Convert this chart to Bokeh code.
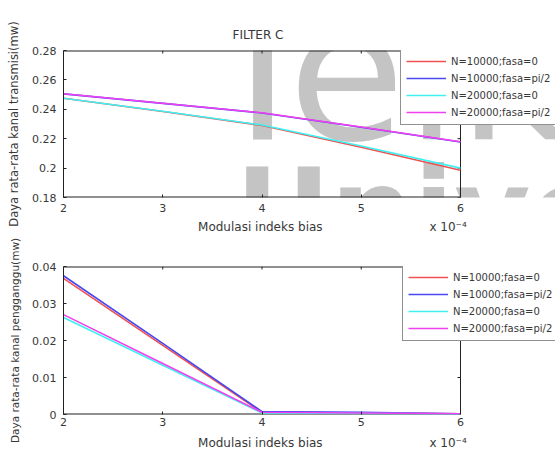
import math
from bokeh.plotting import figure
from bokeh.models import (Legend, LegendItem, Label, FixedTicker, CustomJSTickFormatter, Range1d)
from bokeh.layouts import column
from bokeh.embed import file_html
from bokeh.resources import INLINE

# ---------------- data ----------------
modulasi = [2, 3, 4, 5, 6]  # x 10^-4
series_labels = ["N=10000;fasa=0", "N=10000;fasa=pi/2", "N=20000;fasa=0", "N=20000;fasa=pi/2"]
series_colors = ["#f05050", "#4848f0", "#40f0f0", "#f040f0"]

trans_n10k_0 = [0.2475, 0.2385, 0.2290, 0.2142, 0.1985]
trans_n10k_pi2 = [0.2505, 0.2440, 0.2375, 0.2278, 0.2177]
trans_n20k_0 = [0.2475, 0.2387, 0.2293, 0.2150, 0.2000]
trans_n20k_pi2 = [0.2506, 0.2441, 0.2376, 0.2280, 0.2179]

ganggu_n10k_0 = [0.0368, 0.0187, 0.0006, 0.0004, 0.0002]
ganggu_n10k_pi2 = [0.0375, 0.0192, 0.0008, 0.0006, 0.0002]
ganggu_n20k_0 = [0.0262, 0.0133, 0.0004, 0.0003, 0.0001]
ganggu_n20k_pi2 = [0.0270, 0.0138, 0.0006, 0.0004, 0.0002]

x_ticks = [2, 3, 4, 5, 6]
trans_ticks = [0.18, 0.20, 0.22, 0.24, 0.26, 0.28]
ganggu_ticks = [0.0, 0.01, 0.02, 0.03, 0.04]

x_title = "Modulasi indeks bias"
x_exponent = "x 10\u207b\u2074"
title_text = "FILTER C"
watermark_top = "Telk"
watermark_bottom = "Unive"

TXT = "#383838"
LINE = "#222222"
FONT = "DejaVu Sans"
WM = "#c4c4c4"
NB = "\u00a0"

# frame: left 63 .. right edge of the window; the data box ends at x = 6
X_EXTRA = 95.0 / 99.25          # extra room right of x=6 that holds the legend
fmt_code = "return Number(tick.toFixed(4)).toString();"


def style_axis(ax, ticks, standoff):
    ax.ticker = FixedTicker(ticks=ticks)
    ax.formatter = CustomJSTickFormatter(code=fmt_code)
    ax.major_tick_in = 3
    ax.major_tick_out = 0
    ax.minor_tick_line_color = None
    ax.axis_line_color = LINE
    ax.major_tick_line_color = LINE
    ax.major_label_text_font = FONT
    ax.major_label_text_font_size = "11px"
    ax.major_label_text_color = TXT
    ax.major_label_standoff = standoff


def make_fig(height, yr, yt, ylabel, ylabel_size, btop, bbottom, xl_standoff, xlab_standoff):
    x_lo, x_hi = x_ticks[0], x_ticks[-1]
    p = figure(width=555, height=height, x_range=Range1d(x_lo, x_hi + X_EXTRA), y_range=Range1d(*yr),
               output_backend="svg", toolbar_location=None,
               min_border_left=63, min_border_right=0,
               min_border_top=btop, min_border_bottom=bbottom)
    p.grid.visible = False
    p.outline_line_color = None
    p.background_fill_color = "white"
    p.border_fill_color = "white"

    xa = p.xaxis[0]
    style_axis(xa, x_ticks, xl_standoff)
    xa.axis_line_color = None
    label = NB * 12 + x_title + NB * 28 + x_exponent
    xa.axis_label = label
    xa.axis_label_text_font = FONT
    xa.axis_label_text_font_size = "12px"
    xa.axis_label_text_font_style = "normal"
    xa.axis_label_text_color = TXT
    xa.axis_label_standoff = xlab_standoff

    ya = p.yaxis[0]
    style_axis(ya, yt, 7)
    ya.axis_label = ylabel
    ya.axis_label_text_font = FONT
    ya.axis_label_text_font_size = ylabel_size
    ya.axis_label_text_font_style = "normal"
    ya.axis_label_text_color = TXT
    ya.axis_label_standoff = 8

    # box of the axes: bottom, top and right edges, with inward ticks
    y_lo, y_hi = yr
    p.line([x_lo, x_hi], [y_lo, y_lo], line_color=LINE, line_width=2)
    p.line([x_lo, x_hi], [y_hi, y_hi], line_color=LINE, line_width=2)
    p.line([x_hi, x_hi], [y_lo, y_hi], line_color=LINE, line_width=1)
    p.ray(x=x_ticks[1:-1], y=[y_hi] * (len(x_ticks) - 2), length=3, length_units="screen",
          angle=-math.pi / 2, line_color=LINE, line_width=1)
    p.ray(x=[x_hi] * len(yt), y=yt, length=3, length_units="screen",
          angle=math.pi, line_color=LINE, line_width=1)
    return p


def add_lines(p, ys, loc):
    items = []
    for y, lab, col in zip(ys, series_labels, series_colors):
        r = p.line(modulasi, y, line_color=col, line_width=1.6)
        items.append(LegendItem(label=lab, renderers=[r]))
    leg = Legend(items=items, location=loc)
    leg.label_text_font = FONT
    leg.label_text_font_size = "10px"
    leg.label_text_color = TXT
    leg.glyph_width = 40
    leg.glyph_height = 14
    leg.label_height = 14
    leg.label_standoff = 5
    leg.spacing = 3
    leg.padding = 5
    leg.margin = 0
    leg.border_line_color = LINE
    leg.border_line_width = 1
    leg.background_fill_color = "white"
    leg.background_fill_alpha = 1.0
    p.add_layout(leg, "center")
    return leg


# ---------------- top plot ----------------
p1 = make_fig(238, (0.18, 0.28), trans_ticks, "Daya rata-rata kanal transmisi(mw)", "11.5px",
              50, 41, 6, 5)
p1.title.text = title_text
p1.title.align = "left"
p1.title.offset = 169
p1.title.text_font = FONT
p1.title.text_font_size = "12px"
p1.title.text_font_style = "normal"
p1.title.text_color = TXT
p1.title.standoff = 18

# faint background watermark behind the curves
p1.add_layout(Label(x=3.4207, y=0.2644, text=watermark_top, text_font=FONT, text_font_size="190px",
                    text_color=WM, text_align="left", text_baseline="alphabetic", level="underlay"))
p1.add_layout(Label(x=3.7330, y=0.1707, text=watermark_bottom, text_font=FONT, text_font_size="117px",
                    text_font_style="bold", text_color=WM, text_align="left",
                    text_baseline="alphabetic", level="underlay"))

add_lines(p1, [trans_n10k_0, trans_n10k_pi2, trans_n20k_0, trans_n20k_pi2], (337, 72))

# ---------------- bottom plot ----------------
p2 = make_fig(218, (0.0, 0.04), ganggu_ticks, "Daya rata-rata kanal pengganggu(mw)", "10.5px",
              28, 42, 3, 7)
add_lines(p2, [ganggu_n10k_0, ganggu_n10k_pi2, ganggu_n20k_0, ganggu_n20k_pi2], (339, 73))

layout = column(p1, p2, spacing=0)
open("out.html", "w").write(file_html(layout, INLINE))
